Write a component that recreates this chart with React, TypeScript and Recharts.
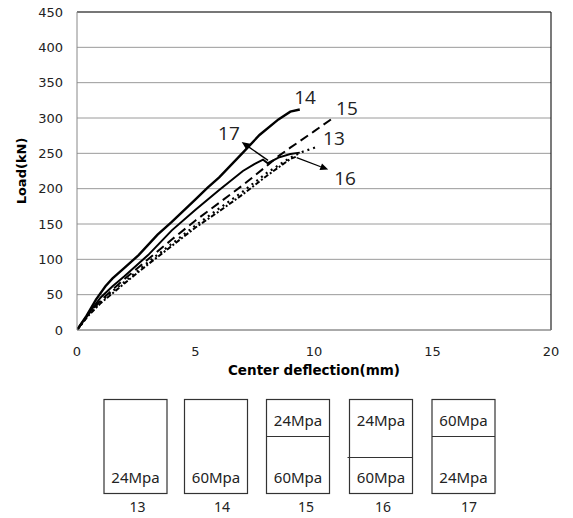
import React from 'react';
import {
  LineChart,
  Line,
  CartesianGrid,
  XAxis,
  YAxis,
  ReferenceLine,
  ReferenceDot,
} from 'recharts';

// load-deflection curves, one pair of arrays per specimen
const defl13 = [0, 0.5, 1, 1.5, 2, 3, 4, 5, 6, 7, 8, 9, 9.5, 10.2];
const load13 = [0, 22, 40, 55, 68, 96, 122, 148, 172, 196, 222, 244, 252, 260];

const defl14 = [0, 0.4, 0.8, 1.2, 1.5, 2, 2.6, 3.4, 4, 5, 5.5, 6, 7, 7.7, 8.5, 9, 9.4];
const load14 = [0, 20, 43, 62, 73, 88, 106, 135, 153, 185, 201, 216, 251, 276, 298, 309, 312];

const defl15 = [0, 0.5, 1, 2, 3, 4, 5, 6, 7, 8, 8.5, 9, 10, 10.8];
const load15 = [0, 23, 42, 72, 100, 128, 155, 180, 205, 232, 246, 258, 281, 300];

const defl16 = [0, 0.5, 1, 2, 3, 4, 5, 6, 7, 8, 9, 9.3];
const load16 = [0, 21, 38, 66, 93, 119, 145, 168, 192, 218, 242, 246];

const defl17 = [0, 0.5, 1, 1.5, 2, 3, 4, 5, 6, 7, 7.5, 7.85, 8.05, 8.5, 9, 9.4];
const load17 = [0, 24, 46, 62, 76, 106, 141, 170, 198, 225, 235, 241, 236, 244, 249, 251];

const xTicks = [0, 5, 10, 15, 20];
const yTicks = [0, 50, 100, 150, 200, 250, 300, 350, 400, 450];

// curve labels [name, deflection, load]
const curveLabels: [string, number, number][] = [
  ['14', 9.62, 330],
  ['15', 11.39, 314],
  ['13', 10.84, 272],
  ['16', 11.31, 215],
  ['17', 6.41, 279],
];

// leader arrows [fromX, fromY, toX, toY]
const arrows: [number, number, number, number][] = [
  [8.06, 240, 6.95, 266],
  [9.27, 244, 10.6, 227],
];

// section sketches under the chart
const specimens = ['13', '14', '15', '16', '17'];
const topLayer = ['', '', '24Mpa', '24Mpa', '60Mpa'];
const bottomLayer = ['24Mpa', '60Mpa', '60Mpa', '60Mpa', '24Mpa'];
const splitAt = [null, null, 37, 58, 37];

const toPoints = (xs: number[], ys: number[]) => xs.map((x, i) => ({ x, y: ys[i] }));

const series = [
  { key: 's14', data: toPoints(defl14, load14), width: 2.4, dash: undefined },
  { key: 's17', data: toPoints(defl17, load17), width: 2, dash: undefined },
  { key: 's15', data: toPoints(defl15, load15), width: 2, dash: '9 5' },
  { key: 's13', data: toPoints(defl13, load13), width: 2.2, dash: '2 4' },
  { key: 's16', data: toPoints(defl16, load16), width: 2, dash: '5 2 2 2' },
];

const Arrow = (props: any) => {
  const { x1, y1, x2, y2 } = props;
  const a = Math.atan2(y2 - y1, x2 - x1);
  const len = 8;
  const w = 3.5;
  const bx = x2 - len * Math.cos(a);
  const by = y2 - len * Math.sin(a);
  const px = -Math.sin(a) * w;
  const py = Math.cos(a) * w;
  return (
    <g>
      <line x1={x1} y1={y1} x2={bx} y2={by} stroke="#000" strokeWidth={1.3} />
      <polygon points={`${x2},${y2} ${bx + px},${by + py} ${bx - px},${by - py}`} fill="#000" />
    </g>
  );
};

const tickStyle = { fontFamily: 'DejaVu Sans', fontSize: 13, fill: '#222' };

function Sections() {
  const boxW = 63;
  const lefts = [104, 184.5, 266.5, 349.5, 432];
  const numX = [137.5, 222, 306, 383, 469];
  const top = 399.5;
  const h = 94;
  return (
    <svg width={573} height={518} style={{ position: 'absolute', left: 0, top: 0 }}>
      {specimens.map((s, i) => {
        const x = lefts[i];
        const split = splitAt[i];
        const txt = { fontFamily: 'Noto Sans', fontSize: 15, fill: '#222', textAnchor: 'middle' as const };
        return (
          <g key={s}>
            <rect x={x} y={top} width={boxW} height={h} fill="none" stroke="#333" strokeWidth={1.2} />
            {split !== null && (
              <line x1={i === 3 ? x - 2 : x} x2={x + boxW} y1={top + split} y2={top + split} stroke="#333" strokeWidth={1.2} />
            )}
            {topLayer[i] && (
              <text x={x + boxW / 2} y={top + 26} {...txt}>
                {topLayer[i]}
              </text>
            )}
            <text x={x + boxW / 2} y={top + 83} {...txt}>
              {bottomLayer[i]}
            </text>
            <text x={numX[i]} y={512} {...txt} fontSize={14}>
              {s}
            </text>
          </g>
        );
      })}
    </svg>
  );
}

export default function App() {
  return (
    <div style={{ position: 'absolute', left: 0, top: 0, width: 573, height: 518, background: '#fff' }}>
      <Sections />
      <LineChart width={573} height={390} margin={{ top: 12, right: 22, left: 0, bottom: 10 }}>
        <CartesianGrid vertical={false} stroke="#9a9a9a" />
        <XAxis
          type="number"
          dataKey="x"
          domain={[0, 20]}
          ticks={xTicks}
          allowDataOverflow
          tickLine={false}
          tickSize={0}
          tickMargin={17}
          height={50}
          stroke="#888"
          tick={tickStyle}
          label={{
            value: 'Center deflection(mm)',
            position: 'insideBottom',
            offset: 5,
            style: { fontFamily: 'DejaVu Sans', fontWeight: 'bold', fontSize: 13.5, fill: '#000' },
          }}
        />
        <YAxis
          type="number"
          domain={[0, 450]}
          ticks={yTicks}
          allowDataOverflow
          tickLine={false}
          tickSize={0}
          tickMargin={14}
          width={77}
          stroke="#888"
          tick={tickStyle}
          label={{
            value: 'Load(kN)',
            angle: -90,
            position: 'insideLeft',
            offset: 21,
            style: { textAnchor: 'middle', fontFamily: 'DejaVu Sans', fontWeight: 'bold', fontSize: 13, fill: '#000' },
          }}
        />
        <ReferenceLine y={450} stroke="#222" strokeWidth={1.2} />
        <ReferenceLine x={20} stroke="#222" strokeWidth={1.2} />
        {series.map((s) => (
          <Line
            key={s.key}
            data={s.data}
            dataKey="y"
            type="linear"
            stroke="#000"
            strokeWidth={s.width}
            strokeDasharray={s.dash}
            dot={false}
            activeDot={false}
            isAnimationActive={false}
          />
        ))}
        {arrows.map(([x1, y1, x2, y2], i) => (
          <ReferenceLine
            key={'a' + i}
            segment={[
              { x: x1, y: y1 },
              { x: x2, y: y2 },
            ]}
            shape={Arrow}
          />
        ))}
        {curveLabels.map(([name, x, y]) => (
          <ReferenceDot
            key={name}
            x={x}
            y={y}
            r={1}
            fill="none"
            stroke="none"
            label={{ value: name, position: 'center', fontFamily: 'Open Sans', fontSize: 19, fill: '#222' }}
          />
        ))}
      </LineChart>
    </div>
  );
}
